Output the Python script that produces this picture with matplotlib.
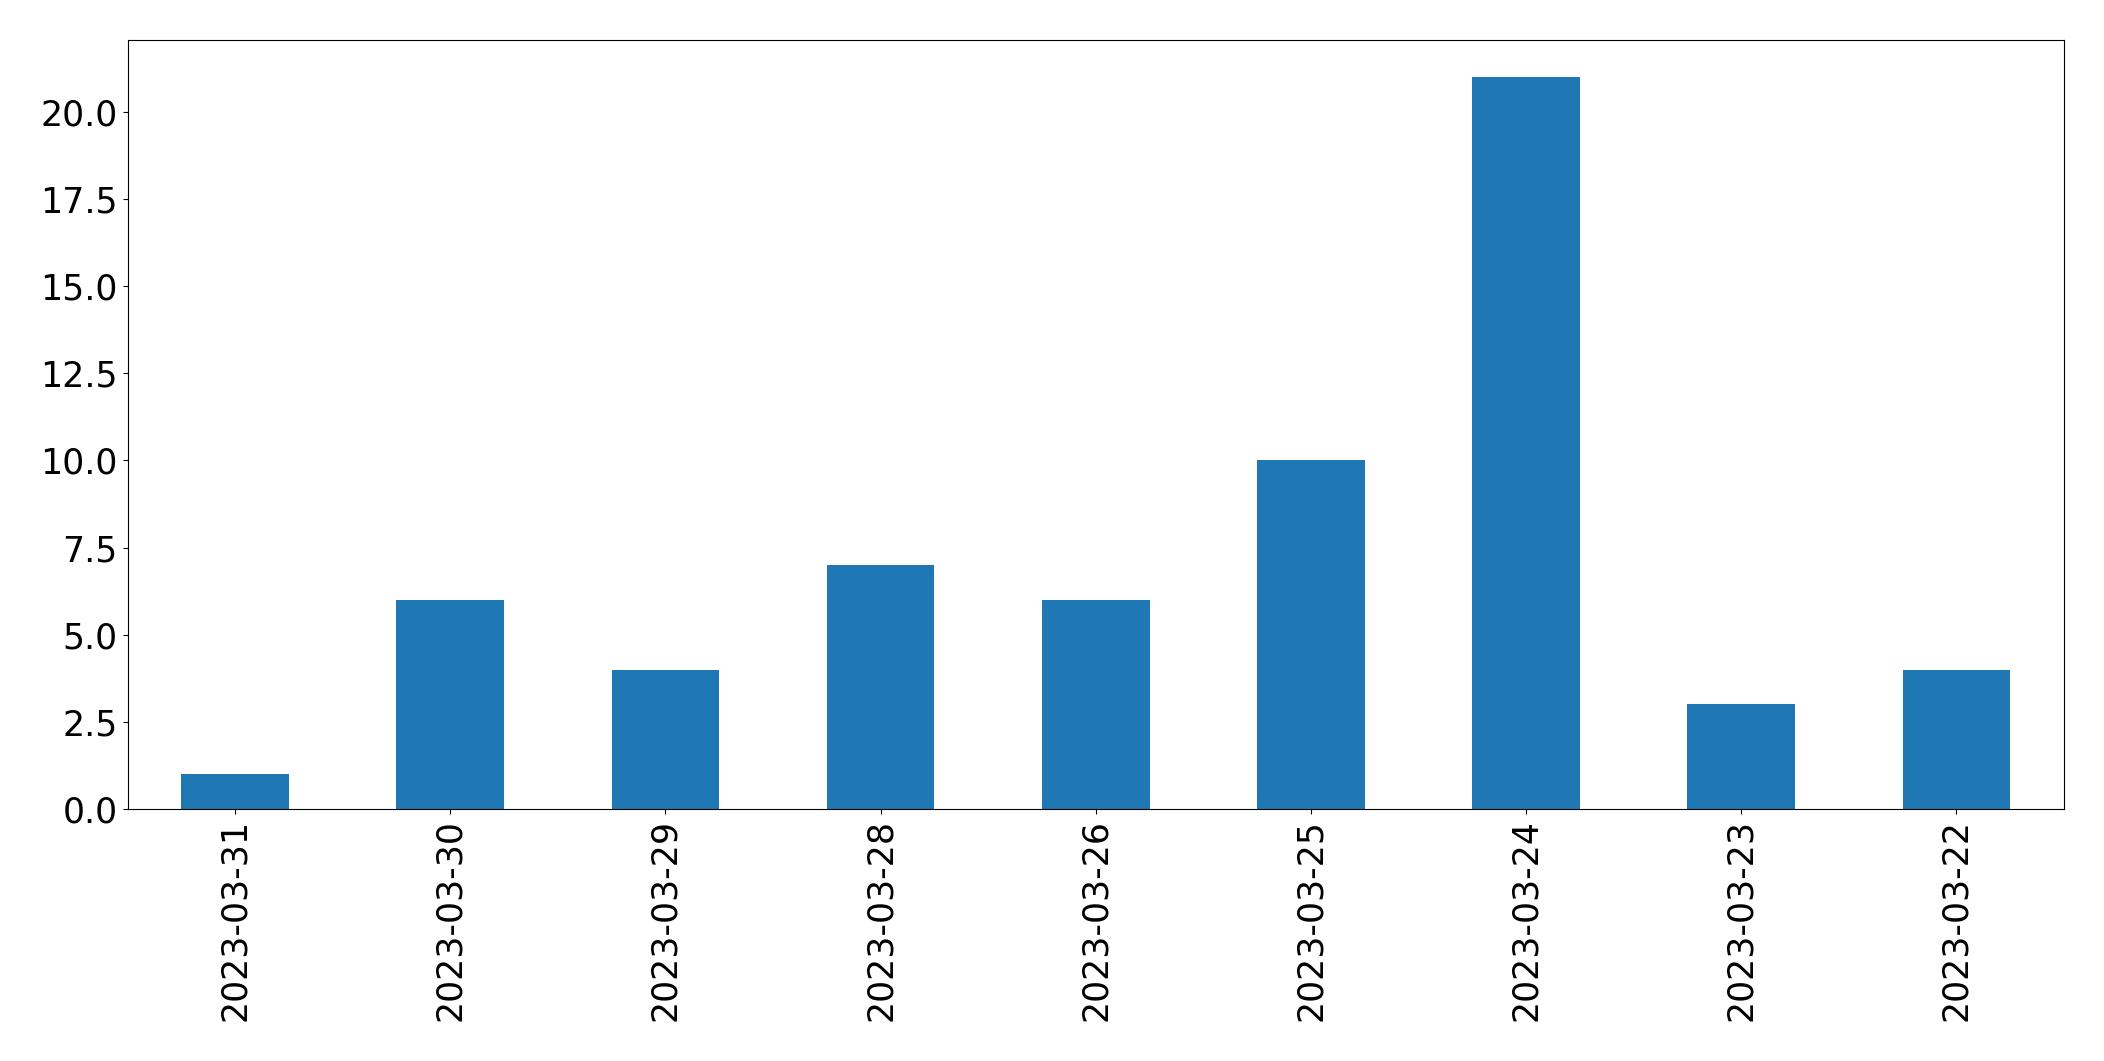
import matplotlib
matplotlib.use("Agg")
import matplotlib.pyplot as plt
import pandas as pd

dates = ["2023-03-31", "2023-03-30", "2023-03-29", "2023-03-28", "2023-03-26",
         "2023-03-25", "2023-03-24", "2023-03-23", "2023-03-22"]
counts = [1, 6, 4, 7, 6, 10, 21, 3, 4]

s = pd.Series(counts, index=dates)

fig, ax = plt.subplots(figsize=(21.04, 10.61), dpi=100)
s.plot(kind="bar", ax=ax, color="#1f77b4")
ax.tick_params(axis="both", labelsize=25)
fig.subplots_adjust(left=0.0606, right=0.981, top=0.962, bottom=0.2375)
fig.savefig("out.png", dpi=100)
